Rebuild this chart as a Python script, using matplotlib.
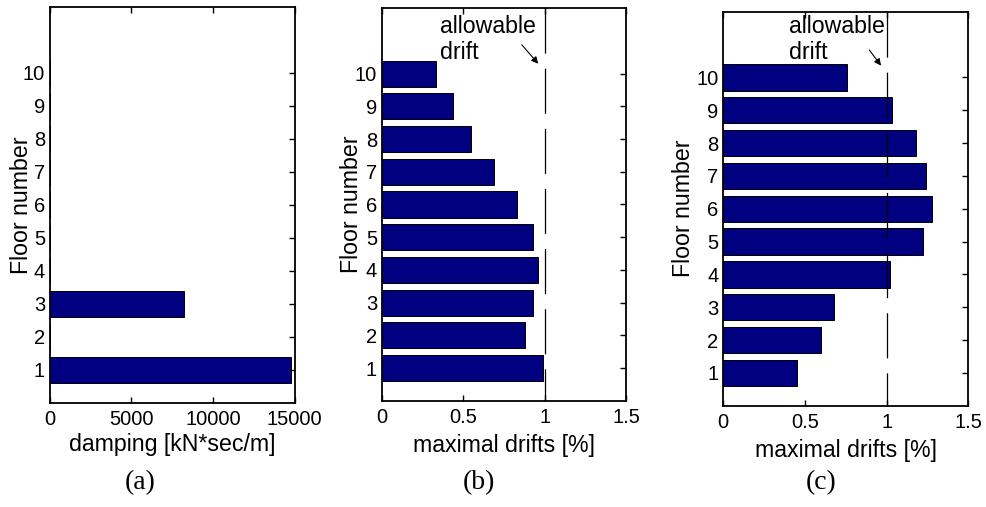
import numpy as np
import matplotlib
matplotlib.use('Agg')
import matplotlib.pyplot as plt

plt.rcParams['font.family'] = ['Liberation Sans', 'DejaVu Sans']
plt.rcParams['font.size'] = 14.5
plt.rcParams['lines.scale_dashes'] = False

floors = np.arange(1, 11)
damping = [14800, 0, 8200, 0, 0, 0, 0, 0, 0, 0]
drifts_b = [0.99, 0.88, 0.93, 0.96, 0.93, 0.83, 0.69, 0.55, 0.44, 0.33]
drifts_c = [0.45, 0.60, 0.68, 1.02, 1.22, 1.28, 1.24, 1.18, 1.03, 0.76]
allowable = 1.0
bar_color = '#000080'
label_size = 16.7

W, H = 986.0, 507.0
fig = plt.figure(figsize=(W / 100, H / 100), dpi=100)

# axes boxes in pixels: left, top, right, bottom
boxes = [(49.7, 7.0, 294.7, 402.7),
         (381.7, 8.3, 626.3, 400.7),
         (723.3, 11.7, 968.3, 405.7)]
axes = [fig.add_axes([l / W, 1 - b / H, (r - l) / W, (b - t) / H])
        for l, t, r, b in boxes]


def style(ax, box, xmax, xticks, xticklabels, xlabel, xlab_base, ylab_mid):
    l, t, r, b = box
    ax.set_ylim(0, 12)
    ax.set_xlim(0, xmax)
    ax.set_yticks(floors)
    ax.set_xticks(xticks)
    ax.set_xticklabels(xticklabels)
    ax.tick_params(direction='in', top=True, right=True, length=4, width=1)
    ax.tick_params(axis='x', pad=5.4)
    ax.tick_params(axis='y', left=False, pad=3.4)
    for s in ax.spines.values():
        s.set_linewidth(1.3)
    ax.set_ylabel('Floor number', fontsize=label_size, va='center')
    ax.yaxis.set_label_coords((ylab_mid - l) / (r - l), 0.5)
    ax.set_xlabel(xlabel, fontsize=label_size, va='baseline')
    ax.xaxis.set_label_coords(0.5, (b - xlab_base) / (b - t))


ax = axes[0]
ax.barh(floors, damping, height=0.8, color=bar_color, edgecolor='k',
        linewidth=0.7)
style(ax, boxes[0], 15000, [0, 5000, 10000, 15000],
      ['0', '5000', '10000', '15000'], 'damping [kN*sec/m]', 451.5, 22)

for ax, box, vals, ylm, txt_xy, tail, head in [
        (axes[1], boxes[1], drifts_b, 352, (0.357, 10.44),
         (0.848, 10.95), (0.971, 10.24)),
        (axes[2], boxes[2], drifts_c, 683, (0.404, 10.55),
         (0.884, 10.90), (0.976, 10.29))]:
    ax.barh(floors, vals, height=0.8, color=bar_color, edgecolor='k',
            linewidth=0.7)
    ax.plot([allowable, allowable], [12, 0], color='k', lw=0.9,
            dashes=(32.5, 10.8), zorder=3)
    style(ax, box, 1.5, [0, 0.5, 1, 1.5], ['0', '0.5', '1', '1.5'],
          'maximal drifts [%]', box[3] + 51, ylm)
    ax.text(txt_xy[0], txt_xy[1], 'allowable\ndrift', ha='left',
            va='baseline', fontsize=label_size)
    ax.annotate('', xy=head, xytext=tail,
                arrowprops=dict(arrowstyle='-|>', color='k', lw=0.8,
                                mutation_scale=10))

for x, lab in [(140, '(a)'), (479, '(b)'), (821, '(c)')]:
    fig.text(x / W, 1 - 483 / H, lab, ha='center', va='center',
             family=['Liberation Serif', 'DejaVu Serif'], fontsize=20)

plt.savefig('out.png', dpi=100)
